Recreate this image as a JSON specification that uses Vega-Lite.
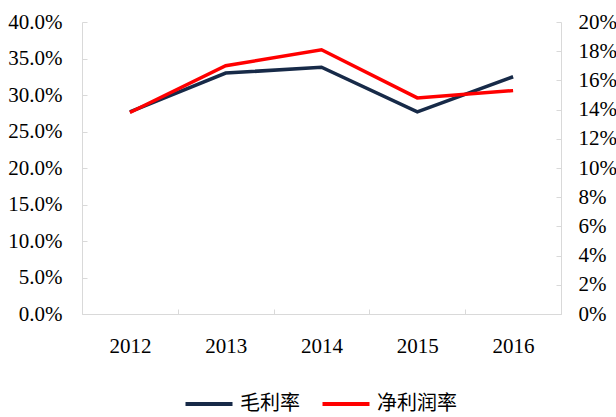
{
  "$schema": "https://vega.github.io/schema/vega-lite/v6.json",
  "width": 479,
  "height": 292,
  "autosize": {"type": "none"},
  "padding": {"left": 82, "top": 22, "right": 55, "bottom": 103},
  "background": "white",
  "config": {
    "view": {"stroke": null},
    "axis": {
      "grid": false,
      "domainColor": "#d9d9d9",
      "tickColor": "#d9d9d9",
      "labelFont": "Liberation Serif",
      "labelFontSize": 21,
      "labelColor": "#000000",
      "title": null
    }
  },
  "data": {
    "values": [
      {"year": "2012", "series": "毛利率", "value": 0.277},
      {"year": "2013", "series": "毛利率", "value": 0.330},
      {"year": "2014", "series": "毛利率", "value": 0.338},
      {"year": "2015", "series": "毛利率", "value": 0.277},
      {"year": "2016", "series": "毛利率", "value": 0.325},
      {"year": "2012", "series": "净利润率", "value": 0.138},
      {"year": "2013", "series": "净利润率", "value": 0.170},
      {"year": "2014", "series": "净利润率", "value": 0.181},
      {"year": "2015", "series": "净利润率", "value": 0.148},
      {"year": "2016", "series": "净利润率", "value": 0.153}
    ]
  },
  "encoding": {
    "x": {
      "field": "year",
      "type": "ordinal",
      "scale": {"paddingInner": 0, "paddingOuter": 0},
      "axis": {"labelAngle": 0, "tickBand": "extent", "tickSize": -5, "labelPadding": 26}
    },
    "stroke": {
      "field": "series",
      "type": "nominal",
      "scale": {"domain": ["毛利率", "净利润率"], "range": ["#172a48", "#ff0000"]},
      "legend": {
        "title": null,
        "orient": "none",
        "legendX": 115,
        "legendY": 370,
        "direction": "horizontal",
        "symbolType": "M-2.35,0H2.35",
        "symbolSize": 400,
        "symbolStrokeWidth": 4,
        "labelFont": "Noto Sans CJK SC",
        "labelFontSize": 20,
        "labelColor": "#000000",
        "columnPadding": 14,
        "labelOffset": 19
      }
    }
  },
  "layer": [
    {
      "transform": [{"filter": "datum.series === '毛利率'"}],
      "mark": {"type": "line", "strokeWidth": 3.5},
      "encoding": {
        "y": {
          "field": "value",
          "type": "quantitative",
          "scale": {"domain": [0, 0.4]},
          "axis": {"format": ".1%", "values": [0, 0.05, 0.1, 0.15, 0.2, 0.25, 0.3, 0.35, 0.4], "tickSize": -5, "labelPadding": 25, "orient": "left"}
        }
      }
    },
    {
      "transform": [{"filter": "datum.series === '净利润率'"}],
      "mark": {"type": "line", "strokeWidth": 3.5},
      "encoding": {
        "y": {
          "field": "value",
          "type": "quantitative",
          "scale": {"domain": [0, 0.2]},
          "axis": {"format": ".0%", "values": [0, 0.02, 0.04, 0.06, 0.08, 0.1, 0.12, 0.14, 0.16, 0.18, 0.2], "tickSize": -5, "labelPadding": 22, "orient": "right"}
        }
      }
    }
  ],
  "resolve": {"scale": {"y": "independent"}}
}
